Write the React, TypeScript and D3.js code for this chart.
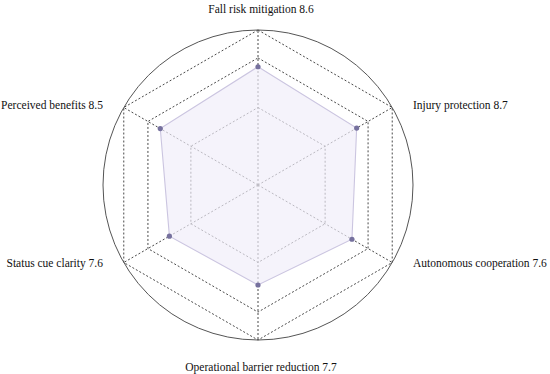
import { useEffect, useRef } from 'react';
import * as d3 from 'd3';

const categories = [
  'Fall risk mitigation',
  'Injury protection',
  'Autonomous cooperation',
  'Operational barrier reduction',
  'Status cue clarity',
  'Perceived benefits',
];
const shownScores = ['8.6', '8.7', '7.6', '7.7', '7.6', '8.5'];
// radial position of each point (scale 0..10)
const plotted = [7.63, 7.35, 7.0, 6.45, 6.6, 7.28];
const gridLevels = [5, 8.2, 10];

const width = 550;
const height = 374;

export default function App() {
  const svgRef = useRef<SVGSVGElement>(null);

  useEffect(() => {
    const svg = d3.select(svgRef.current);
    svg.selectAll('*').remove();

    const cx = 258;
    const cy = 185;
    const R = 155;
    const n = categories.length;
    const r = d3.scaleLinear().domain([0, 10]).range([0, R]);
    const angle = (i: number) => (i * 2 * Math.PI) / n;
    const pt = (i: number, rad: number): [number, number] => [
      cx + rad * Math.sin(angle(i)),
      cy - rad * Math.cos(angle(i)),
    ];

    const g = svg.append('g');

    g.append('circle')
      .attr('cx', cx)
      .attr('cy', cy)
      .attr('r', R)
      .attr('fill', 'none')
      .attr('stroke', '#555')
      .attr('stroke-width', 1);

    const line = d3.line<[number, number]>().curve(d3.curveLinearClosed);

    gridLevels.forEach((lv) => {
      g.append('path')
        .attr('d', line(d3.range(n).map((i) => pt(i, r(lv)))))
        .attr('fill', 'none')
        .attr('stroke', '#4a4a4a')
        .attr('stroke-width', 1)
        .attr('stroke-dasharray', '2,2');
    });

    d3.range(n).forEach((i) => {
      const [x, y] = pt(i, R);
      g.append('line')
        .attr('x1', cx)
        .attr('y1', cy)
        .attr('x2', x)
        .attr('y2', y)
        .attr('stroke', '#4a4a4a')
        .attr('stroke-width', 1)
        .attr('stroke-dasharray', '2,2');
    });

    const pts = plotted.map((v, i) => pt(i, r(v)));
    g.append('path')
      .attr('d', line(pts))
      .attr('fill', 'rgba(240,237,249,0.68)')
      .attr('stroke', '#cbc5e0')
      .attr('stroke-width', 1.1);

    g.selectAll('circle.dot')
      .data(pts)
      .enter()
      .append('circle')
      .attr('class', 'dot')
      .attr('cx', (d) => d[0])
      .attr('cy', (d) => d[1])
      .attr('r', 2.6)
      .attr('fill', '#76719e');

    const labelR = R + 24;
    categories.forEach((c, i) => {
      const [x, y] = pt(i, labelR);
      const s = Math.sin(angle(i));
      const co = Math.cos(angle(i));
      let anchor = 'middle';
      let yy = y + 7;
      if (s > 0.1) anchor = 'start';
      if (s < -0.1) anchor = 'end';
      if (Math.abs(s) > 0.1) yy = y + 4 + (co > 0 ? 9 : -12);
      g.append('text')
        .attr('x', x + (Math.abs(s) < 0.1 ? 3 : 0))
        .attr('y', yy)
        .attr('text-anchor', anchor)
        .attr('font-family', 'Liberation Serif, serif')
        .attr('font-size', 11.5)
        .attr('fill', '#111')
        .text(`${c} ${shownScores[i]}`);
    });
  }, []);

  return (
    <svg
      ref={svgRef}
      width={width}
      height={height}
      style={{ position: 'absolute', left: 0, top: 0 }}
    />
  );
}
